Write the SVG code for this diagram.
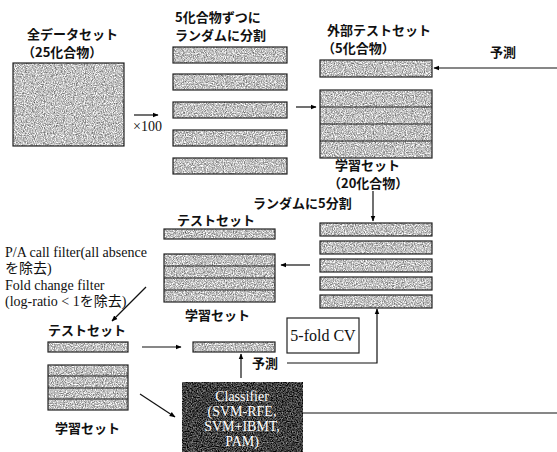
<svg xmlns="http://www.w3.org/2000/svg" width="557" height="452" viewBox="0 0 557 452">
<defs>
<filter id="grain" x="0" y="0" width="100%" height="100%" color-interpolation-filters="sRGB">
<feTurbulence type="fractalNoise" baseFrequency="0.9" numOctaves="2" seed="3" result="n"/>
<feColorMatrix in="n" type="matrix" values="1.05 0 0 0 0.23  1.05 0 0 0 0.23  1.05 0 0 0 0.23  0 0 0 0 1" result="g"/>
<feComposite in="g" in2="SourceAlpha" operator="in"/>
</filter>
<filter id="dgrain" x="0" y="0" width="100%" height="100%" color-interpolation-filters="sRGB">
<feTurbulence type="fractalNoise" baseFrequency="0.8" numOctaves="2" seed="7" result="n"/>
<feColorMatrix in="n" type="matrix" values="1.1 0 0 0 -0.3  1.1 0 0 0 -0.3  1.1 0 0 0 -0.3  0 0 0 0 1" result="g"/>
<feComposite in="g" in2="SourceAlpha" operator="in"/>
</filter>
<marker id="ah" viewBox="0 0 10 10" refX="9" refY="5" markerWidth="6" markerHeight="6" orient="auto-start-reverse" markerUnits="userSpaceOnUse">
<path d="M0,1 L10,5 L0,9 Z" fill="#000"/>
</marker>
</defs>
<style>
.g{filter:url(#grain);fill:#aaa}
.o{fill:none;stroke:#222;stroke-width:1.2}
.jp{font-family:"Noto Sans CJK JP","Noto Sans",sans-serif;font-size:13px;font-weight:bold;fill:#111}
.sf{font-family:"Liberation Serif","Noto Sans CJK JP",serif;font-size:14px;fill:#111}
.c{stroke:#111;stroke-width:1.2;fill:none}
.a{marker-end:url(#ah)}
.w{font-family:"Liberation Serif",serif;font-size:14px;fill:#fff;text-anchor:middle}
</style>
<rect width="557" height="452" fill="#fff"/>

<g id="full-dataset">
<rect class="g" x="13" y="63" width="111" height="83"/>
<rect class="o" x="13" y="63" width="111" height="83"/>
<text class="jp" x="27" y="39">全データセット</text>
<text class="jp" x="22" y="57">（25化合物）</text>
</g>

<g id="split5">
<text class="jp" x="175" y="22">5化合物ずつに</text>
<text class="jp" x="175" y="40">ランダムに分割</text>
<rect class="g" x="173" y="47" width="114" height="16"/><rect class="o" x="173" y="47" width="114" height="16"/>
<rect class="g" x="173" y="74" width="114" height="16"/><rect class="o" x="173" y="74" width="114" height="16"/>
<rect class="g" x="173" y="102" width="114" height="16"/><rect class="o" x="173" y="102" width="114" height="16"/>
<rect class="g" x="173" y="130" width="114" height="16"/><rect class="o" x="173" y="130" width="114" height="16"/>
<rect class="g" x="173" y="158" width="114" height="16"/><rect class="o" x="173" y="158" width="114" height="16"/>
</g>

<g id="external-test">
<text class="jp" x="327" y="35">外部テストセット</text>
<text class="jp" x="322" y="53">（5化合物）</text>
<rect class="g" x="320" y="60" width="112" height="17"/><rect class="o" x="320" y="60" width="112" height="17"/>
</g>

<g id="training-20">
<rect class="g" x="320" y="90" width="112" height="68"/>
<rect class="o" x="320" y="90" width="112" height="68"/>
<path class="o" d="M320,107H432M320,124H432M320,141H432"/>
<text class="jp" x="335" y="170">学習セット</text>
<text class="jp" x="328" y="188">（20化合物）</text>
</g>

<g id="split5-cv">
<text class="jp" x="253" y="208">ランダムに5分割</text>
<rect class="g" x="320" y="223" width="112" height="13"/><rect class="o" x="320" y="223" width="112" height="13"/>
<rect class="g" x="320" y="241" width="112" height="13"/><rect class="o" x="320" y="241" width="112" height="13"/>
<rect class="g" x="320" y="259" width="112" height="13"/><rect class="o" x="320" y="259" width="112" height="13"/>
<rect class="g" x="320" y="277" width="112" height="13"/><rect class="o" x="320" y="277" width="112" height="13"/>
<rect class="g" x="320" y="295" width="112" height="13"/><rect class="o" x="320" y="295" width="112" height="13"/>
</g>

<g id="cv-fold">
<text class="jp" x="177" y="225">テストセット</text>
<rect class="g" x="164" y="229" width="111" height="10"/><rect class="o" x="164" y="229" width="111" height="10"/>
<rect class="g" x="164" y="254" width="111" height="48"/><rect class="o" x="164" y="254" width="111" height="48"/>
<path class="o" d="M164,266H275M164,278H275M164,290H275"/>
<text class="jp" x="185" y="320">学習セット</text>
</g>

<g id="filter-text">
<text class="sf" x="5" y="257">P/A call filter(all absence</text>
<text class="sf" x="5" y="273">を除去)</text>
<text class="sf" x="5" y="290">Fold change filter</text>
<text class="sf" x="5" y="306">(log-ratio &lt; 1を除去)</text>
</g>

<g id="filtered-fold">
<text class="jp" x="48" y="335">テストセット</text>
<rect class="g" x="48" y="342" width="80" height="10"/><rect class="o" x="48" y="342" width="80" height="10"/>
<rect class="g" x="48" y="365" width="80" height="45"/><rect class="o" x="48" y="365" width="80" height="45"/>
<path class="o" d="M48,376H128M48,388H128M48,399H128"/>
<text class="jp" x="55" y="433">学習セット</text>
</g>

<g id="predicted-test">
<rect class="g" x="193" y="342" width="82" height="10"/><rect class="o" x="193" y="342" width="82" height="10"/>
</g>

<g id="cv-box">
<rect x="287" y="318" width="72" height="35" fill="#fff" stroke="#222" stroke-width="1.2"/>
<text x="323" y="341" font-family="Liberation Serif, serif" font-size="16" fill="#111" text-anchor="middle">5-fold CV</text>
</g>

<g id="classifier">
<rect x="182" y="382" width="121" height="75" fill="#333" filter="url(#dgrain)"/>
<text class="w" x="242" y="401">Classifier</text>
<text class="w" x="242" y="416">(SVM-RFE,</text>
<text class="w" x="242" y="431">SVM+IBMT,</text>
<text class="w" x="242" y="446">PAM)</text>
</g>

<g id="connectors">
<line class="c a" x1="134" y1="115" x2="158" y2="115"/>
<text class="sf" x="133" y="131" font-size="15">×100</text>
<line class="c a" x1="296" y1="107" x2="316" y2="107"/>
<line class="c a" x1="557" y1="68" x2="434" y2="68"/>
<text class="jp" x="490" y="57">予測</text>
<line class="c a" x1="373" y1="191" x2="373" y2="221"/>
<line class="c a" x1="310" y1="265" x2="281" y2="265"/>
<line class="c a" x1="146" y1="287" x2="112" y2="321"/>
<line class="c a" x1="142" y1="347" x2="181" y2="347"/>
<line class="c a" x1="140" y1="394" x2="175" y2="417"/>
<line class="c a" x1="241" y1="378" x2="241" y2="354"/>
<text class="jp" x="252" y="368">予測</text>
<polyline class="c a" points="287,363 377,363 377,309"/>
<line class="c" x1="303" y1="413" x2="557" y2="413"/>
</g>
</svg>
